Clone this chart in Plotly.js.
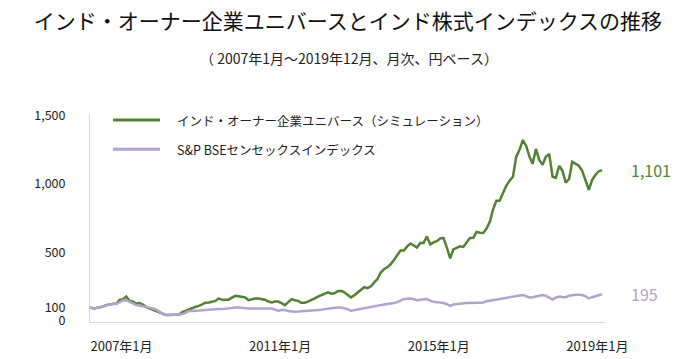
<!DOCTYPE html>
<html>
<head>
<meta charset="utf-8">
<script src="https://cdn.plot.ly/plotly-3.0.1.min.js"></script>
<style>html,body{margin:0;padding:0;background:#fff;}#chart{width:700px;height:359px;}</style>
</head>
<body>
<div id="chart"></div>
<script>
// ---- data ----
const startYear = 2007;
const seriesNames = ['インド・オーナー企業ユニバース（シミュレーション）', 'S&P BSEセンセックスインデックス'];
// Monthly values 2007-01 .. 2019-12
const universe = [
  100, 92, 95, 100, 106, 116, 122, 126, 128, 155, 160, 179,
  147, 141, 127, 131, 120, 102, 92, 83, 73, 62, 51, 44,
  44, 44, 44, 47, 65, 76, 87, 94, 104, 111, 120, 134,
  136, 141, 147, 165, 155, 155, 156, 171, 184, 181, 179, 172,
  152, 160, 165, 165, 163, 156, 142, 136, 143, 142, 131, 116,
  138, 160, 152, 147, 133, 134, 142, 152, 165, 178, 187, 200,
  210, 200, 203, 218, 221, 210, 189, 172, 189, 210, 232, 247,
  240, 254, 280, 305, 352, 378, 392, 414, 446, 479, 515, 515,
  545, 566, 552, 537, 570, 570, 617, 559, 574, 583, 603, 606,
  537, 457, 523, 534, 545, 541, 574, 606, 608, 650, 644, 643,
  675, 726, 813, 878, 878, 937, 987, 1024, 1053, 1198, 1249, 1321,
  1278, 1198, 1147, 1256, 1176, 1140, 1198, 1220, 1053, 1045, 1133, 1096,
  1009, 1038, 1162, 1147, 1133, 1096, 1024, 958, 1031, 1067, 1093, 1101
];
const sensex = [
  100, 92, 95, 100, 106, 116, 122, 125, 125, 138, 150, 152,
  138, 123, 116, 113, 109, 102, 98, 91, 83, 69, 51, 44,
  44, 44, 44, 47, 51, 65, 73, 73, 75, 76, 80, 82,
  83, 87, 87, 87, 87, 91, 92, 94, 98, 99, 96, 92,
  92, 92, 92, 92, 92, 92, 92, 91, 83, 75, 80, 80,
  73, 68, 68, 69, 73, 73, 75, 76, 80, 82, 83, 87,
  91, 92, 94, 98, 99, 94, 87, 75, 80, 87, 91, 92,
  99, 105, 109, 113, 116, 120, 123, 127, 131, 138, 149, 160,
  163, 165, 160, 152, 156, 160, 160, 149, 140, 138, 136, 131,
  123, 111, 120, 123, 127, 131, 131, 131, 131, 132, 134, 136,
  145, 149, 156, 161, 165, 168, 171, 174, 179, 181, 185, 189,
  181, 172, 174, 179, 185, 189, 185, 172, 156, 171, 179, 176,
  174, 185, 190, 191, 191, 190, 181, 165, 174, 181, 189, 195
];
const xTickVals = ['2007-01-01', '2011-01-01', '2015-01-01', '2019-01-01'];
const xTickText = ['2007年1月', '2011年1月', '2015年1月', '2019年1月'];
const yTickVals = [0, 100, 500, 1000, 1500];
const yTickText = ['0', '100', '500', '1,000', '1,500'];

// month dates
const months = universe.map((_, i) => {
  const y = startYear + Math.floor(i / 12);
  const m = (i % 12) + 1;
  return y + '-' + String(m).padStart(2, '0') + '-01';
});

const GREEN = '#548235';
const LAV = '#b1a3cc';
const FONT = '"Noto Sans CJK JP", "Noto Sans", sans-serif';

const traces = [
  {x: months, y: universe, type: 'scatter', mode: 'lines', name: seriesNames[0],
   line: {color: GREEN, width: 2.5}, hoverinfo: 'skip'},
  {x: months, y: sensex, type: 'scatter', mode: 'lines', name: seriesNames[1],
   line: {color: LAV, width: 2.5}, hoverinfo: 'skip'}
];

const fmt = v => v.toLocaleString('en-US');
const lastU = universe[universe.length - 1];
const lastS = sensex[sensex.length - 1];

const layout = {
  width: 700, height: 359,
  margin: {l: 90, r: 95, t: 113, b: 37},
  paper_bgcolor: '#fff', plot_bgcolor: '#fff',
  showlegend: false,
  font: {family: FONT, color: '#222', size: 13},
  title: {text: 'インド・オーナー企業ユニバースとインド株式インデックスの推移',
          x: 0.497, xanchor: 'center', y: 1 - 22 / 359, yanchor: 'middle', yref: 'container',
          font: {family: FONT, size: 21, color: '#111'}},
  xaxis: {type: 'date', range: ['2007-01-01', '2019-12-28'],
          tickmode: 'array', tickvals: xTickVals, ticktext: xTickText,
          ticks: '', showgrid: false, zeroline: false,
          showline: true, linecolor: '#d9d9d9', linewidth: 1,
          ticklabelposition: 'outside right', ticklabelstandoff: 12,
          tickfont: {family: FONT, size: 13, color: '#222'}},
  yaxis: {range: [-7, 1518], tickmode: 'array', tickvals: yTickVals, ticktext: yTickText,
          ticks: '', showgrid: false, zeroline: false,
          showline: true, linecolor: '#d9d9d9', linewidth: 1,
          ticklabelstandoff: 21,
          tickfont: {family: FONT, size: 12.5, color: '#222'}},
  shapes: [
    {type: 'line', xref: 'paper', yref: 'paper', x0: 0.0447, x1: 0.136, y0: 0.9665, y1: 0.9665,
     line: {color: GREEN, width: 3}},
    {type: 'line', xref: 'paper', yref: 'paper', x0: 0.0447, x1: 0.136, y0: 0.826, y1: 0.826,
     line: {color: LAV, width: 3}}
  ],
  annotations: [
    {text: '（ 2007年1月～2019年12月、月次、円ベース）', xref: 'paper', yref: 'paper',
     x: 0.503, y: 1.263, xanchor: 'center', yanchor: 'middle', showarrow: false,
     font: {family: FONT, size: 14, color: '#222'}},
    {text: seriesNames[0], xref: 'paper', yref: 'paper', x: 0.165, y: 0.9665,
     xanchor: 'left', yanchor: 'middle', showarrow: false,
     font: {family: FONT, size: 12.5, color: '#222'}},
    {text: seriesNames[1], xref: 'paper', yref: 'paper', x: 0.165, y: 0.826,
     xanchor: 'left', yanchor: 'middle', showarrow: false,
     font: {family: FONT, size: 12.5, color: '#222'}},
    {text: fmt(lastU), xref: 'paper', yref: 'y', x: 1.047, y: lastU,
     xanchor: 'left', yanchor: 'middle', showarrow: false,
     font: {family: FONT, size: 16, color: GREEN}},
    {text: fmt(lastS), xref: 'paper', yref: 'y', x: 1.047, y: lastS,
     xanchor: 'left', yanchor: 'middle', showarrow: false,
     font: {family: FONT, size: 16, color: LAV}}
  ]
};

Plotly.newPlot('chart', traces, layout, {staticPlot: true, displayModeBar: false});
</script>
</body>
</html>
